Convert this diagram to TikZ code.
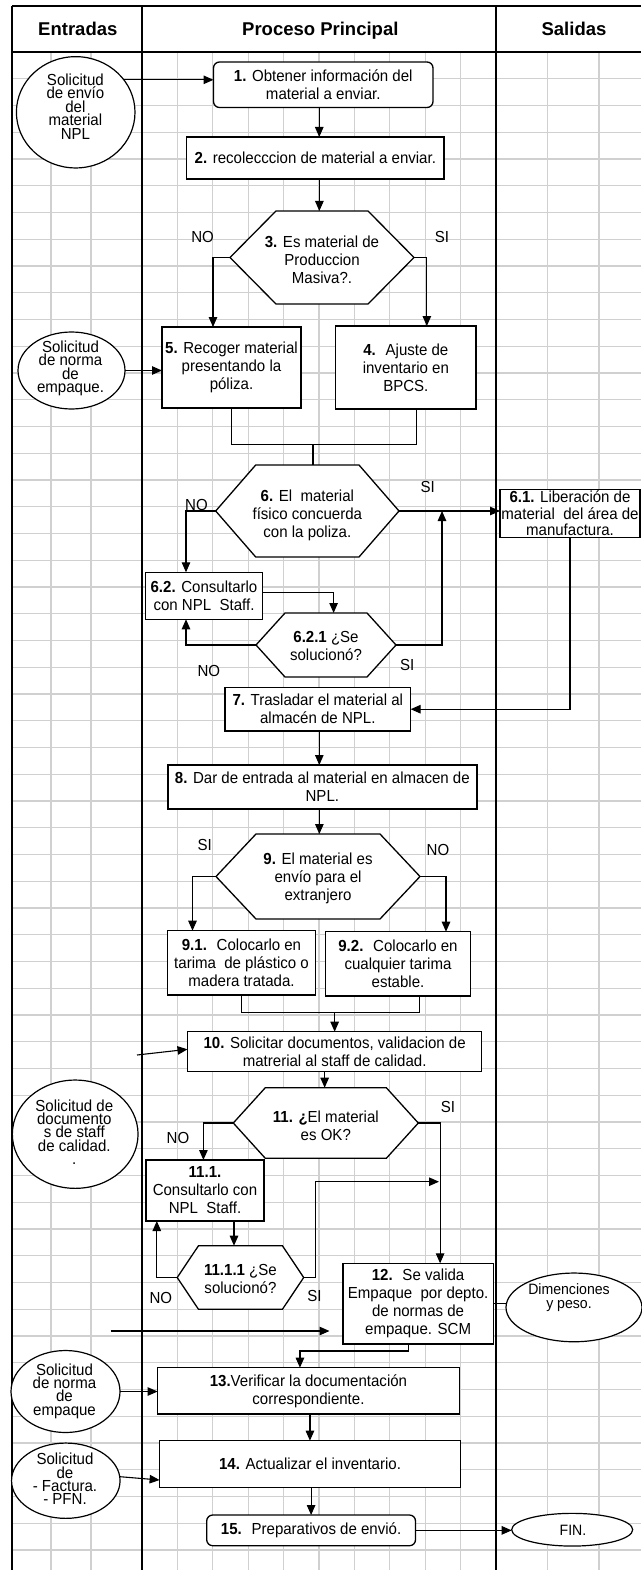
\documentclass[tikz,border=0pt]{standalone}
\usepackage{fontspec}
\setmainfont{Liberation Sans}[FakeStretch=0.94]
\newfontfamily\headfont{Liberation Sans}
\usetikzlibrary{arrows.meta,shapes.geometric}

\definecolor{gridgray}{RGB}{208,208,208}
\newcommand\bodyfont{\fontsize{16}{18}\selectfont}
\newcommand\ovalfont{\fontsize{16}{13.4}\selectfont\lineskiplimit=-20pt}
\newcommand\smallovalfont{\fontsize{15}{13.4}\selectfont\lineskiplimit=-20pt}

% hexagonal decision: name, cx, cy, width, height, inset, text drop, text
\newcommand\hexa[8]{%
  \node[hexfrm, minimum width=#4pt, minimum height=#5pt] (#1) at (#2,#3) {};
  \path[hexline] ([xshift=#6pt]#1.north west) -- ([xshift=-#6pt]#1.north east)
     -- (#1.east) -- ([xshift=-#6pt]#1.south east) -- ([xshift=#6pt]#1.south west)
     -- (#1.west) -- cycle;
  \node[htext] (#1t) at ([yshift=-#7pt]#1.center) {#8};
}

\tikzset{
  frame/.style={line width=2pt},
  gridln/.style={draw=gridgray, line width=1.2pt},
  box/.style={draw, fill=white, line width=1.3pt, inner sep=0pt, outer sep=0pt,
              align=center, font=\bodyfont},
  rbox/.style={box, rounded corners=6pt},
  oval/.style={ellipse, draw, fill=white, line width=1.2pt, inner sep=0pt, outer sep=0pt},
  otext/.style={align=center, font=\ovalfont, inner sep=0pt},
  hexfrm/.style={draw=none, inner sep=0pt, outer sep=0pt},
  hexline/.style={draw, fill=white, line width=1.3pt, line join=miter},
  htext/.style={align=center, font=\bodyfont, inner sep=0pt},
  lbl/.style={font=\bodyfont, inner sep=0pt},
  conn/.style={line width=1.1pt},
  arr/.style={conn, -{Triangle[length=10pt,width=8.5pt]}},
  head/.style={font=\headfont\bfseries\fontsize{18.5}{21}\selectfont, inner sep=0pt, anchor=base}
}

\begin{document}
\begin{tikzpicture}[x=1pt, y=-1pt]
\useasboundingbox (0,0) rectangle (641,1570);
\fill[white] (0,0) rectangle (641,1570);

% background grid
\foreach \i in {1,...,56}
  \draw[gridln] (12,{52+\i*26.75}) -- (641,{52+\i*26.75});
\foreach \x in {51,91,177.4,212.8,248.2,283.6,319.0,354.4,389.8,425.2,460.6,547.5,599}
  \draw[gridln] (\x,52) -- (\x,1570);

% swimlane frame
\draw[frame] (12,6) -- (641,6);
\draw[frame] (12,52) -- (641,52);
\draw[frame] (12,6) -- (12,1570);
\draw[frame] (142,6) -- (142,1570);
\draw[frame] (496,6) -- (496,1570);

\node[head] (hE) at (77.8,36) {Entradas};
\node[head] (hP) at (320.3,36) {Proceso Principal};
\node[head] (hS) at (574,36) {Salidas};

% inputs
\node[oval, minimum width=118.6pt, minimum height=111.3pt] (e1) at (75.7,112.3) {};
\node[otext] (e1t) at (75.4,106.5) {Solicitud\\de envío\\del\\material\\NPL};
\node[oval, minimum width=107pt, minimum height=77pt] (e2) at (71.5,370.5) {};
\node[otext] (e2t) at (70.5,368.5) {Solicitud\\de norma\\de\\empaque.};
\node[oval, minimum width=125.7pt, minimum height=108.3pt] (e3) at (75.2,1134.2) {};
\node[otext] (e3t) at (74.3,1132) {Solicitud de\\documento\\s de staff\\de calidad.\\.};
\node[oval, minimum width=109pt, minimum height=82pt] (e5) at (65.5,1391.5) {};
\node[otext] (e5t) at (64.5,1391) {Solicitud\\de norma\\de\\empaque};
\node[oval, minimum width=108.5pt, minimum height=75.3pt] (e6) at (65.8,1480.7) {};
\node[otext] (e6t) at (65,1479) {Solicitud\\de\\- Factura.\\- PFN.};

% outputs
\node[oval, minimum width=136pt, minimum height=68.7pt] (e4) at (574,1307.4) {};
\node[otext, font=\smallovalfont] (e4t) at (569,1297.5) {Dimenciones\\y peso.};
\node[oval, minimum width=121pt, minimum height=32.7pt] (fin) at (572.2,1529.7) {};
\node[otext, font=\smallovalfont] (fint) at (573,1530) {FIN.};

% process steps
\node[rbox, minimum width=219.5pt, minimum height=45.5pt] (b1) at (323.25,84.75)
  {\textbf{1.} Obtener información del\\material a enviar.};
\node[box, minimum width=257.3pt, minimum height=42pt] (b2) at (315.35,158)
  {\textbf{2.} recolecccion de material a enviar.};
\hexa{h3}{322}{257.5}{184}{93}{46}{2}{\textbf{3.} Es material de\\Produccion\\Masiva?.}
\node[box, minimum width=139pt, minimum height=81pt] (b5) at (231.5,367.5)
  {\textbf{5.} Recoger material\\presentando la\\póliza.};
\node[box, minimum width=140.3pt, minimum height=83pt] (b4) at (405.85,367.5)
  {\textbf{4.}~ Ajuste de\\inventario en\\BPCS.};
\hexa{h6}{307.35}{511}{183.3}{92}{40}{4}{\textbf{6.} El~ material\\físico concuerda\\con la poliza.}
\node[box, minimum width=140pt, minimum height=48pt, font=\fontsize{16}{16.5}\selectfont] (b61) at (570,513.5)
  {\textbf{6.1.} Liberación de\\material~ del área de\\manufactura.};
\node[box, minimum width=117.5pt, minimum height=47pt] (b62) at (204,595.8)
  {\textbf{6.2.} Consultarlo\\con NPL~ Staff.};
\hexa{h621}{326}{645}{140}{64}{29}{1}{\textbf{6.2.1} ¿Se\\solucionó?}
\node[box, minimum width=185.6pt, minimum height=43.7pt] (b7) at (317.8,709.2)
  {\textbf{7.} Trasladar el material al\\almacén de NPL.};
\node[box, minimum width=309pt, minimum height=44pt] (b8) at (322.35,787)
  {\textbf{8.} Dar de entrada al material en almacen de\\NPL.};
\hexa{h9}{318}{876.5}{204}{85}{40}{2}{\textbf{9.} El material es\\envío para el\\extranjero};
\node[box, minimum width=147.4pt, minimum height=64.3pt] (b91) at (241.5,962.85)
  {\textbf{9.1.}~ Colocarlo en\\tarima~ de plástico o\\madera tratada.};
\node[box, minimum width=145.3pt, minimum height=64.3pt] (b92) at (398,963.85)
  {\textbf{9.2.}~ Colocarlo en\\cualquier tarima\\estable.};
\node[box, minimum width=294.3pt, minimum height=40pt] (b10) at (334.65,1051.7)
  {\textbf{10.} Solicitar documentos, validacion de\\matrerial al staff de calidad.};
\hexa{h11}{325.8}{1123}{185}{70.6}{32}{3}{\textbf{11. ¿}El material\\es OK?}
\node[box, minimum width=118pt, minimum height=61pt] (b111) at (205,1190.5)
  {\textbf{11.1.}\\Consultarlo con\\NPL~ Staff.};
\hexa{h1111}{240.45}{1277.5}{126.5}{63.6}{21.3}{1}{\textbf{11.1.1} ¿Se\\solucionó?}
\node[box, minimum width=150.2pt, minimum height=80.7pt] (b12) at (418.1,1303.65)
  {\textbf{12.}~ Se valida\\Empaque~ por depto.\\de normas de\\empaque. SCM};
\node[box, minimum width=301.7pt, minimum height=46.3pt] (b13) at (308.45,1390.85)
  {\textbf{13.}Verificar la documentación\\correspondiente.};
\node[box, minimum width=300.9pt, minimum height=46.6pt] (b14) at (310.05,1464)
  {\textbf{14.} Actualizar el inventario.};
\node[rbox, minimum width=208.8pt, minimum height=30.7pt] (b15) at (311.1,1530.35)
  {\textbf{15.}~ Preparativos de envió.};

% decision labels
\node[lbl] (l3n) at (202.6,236.7) {NO};
\node[lbl] (l3s) at (442,236.7) {SI};
\node[lbl] (l6n) at (196.5,505) {NO};
\node[lbl] (l6s) at (427.8,487.3) {SI};
\node[lbl] (l621n) at (208.8,670.7) {NO};
\node[lbl] (l621s) at (407.3,665) {SI};
\node[lbl] (l9s) at (204.7,845) {SI};
\node[lbl] (l9n) at (438,850) {NO};
\node[lbl] (l11s) at (448,1106.7) {SI};
\node[lbl] (l11n) at (178,1138.3) {NO};
\node[lbl] (l1111n) at (160.9,1298.3) {NO};
\node[lbl] (l1111s) at (314.4,1295.7) {SI};

% junction points and free ends
\coordinate (j1) at ([xshift=5.6pt,yshift=20.7pt]h6.north);
\coordinate (j3) at ([yshift=19pt]b10.north);
\coordinate (j4) at (439,1181.7);
\coordinate (in10) at (137,1055);
\coordinate (in12a) at (110.5,1331);
\coordinate (in12b) at (329.5,1331);

% connectors
\draw[arr] (e1.34) -- (e1.34 -| b1.west);
\draw[arr] ([xshift=-4pt]b1.south) -- ([xshift=-4pt]b1.south |- b2.north);
\draw[arr] ([xshift=4pt]b2.south) -- ([xshift=4pt]b2.south |- h3.north);
\draw[arr] (h3.west) -| ([xshift=-18.5pt]b5.north);
\draw[arr] (h3.east) -| ([xshift=21pt]b4.north);
\draw[arr] (e2.east) -- (e2.east -| b5.west);
\draw[conn] (b5.south) |- ([xshift=10.5pt]b4.south |- j1) -- ([xshift=10.5pt]b4.south);
\draw[conn] (j1) -- (j1 |- h6.north);
\draw[arr] (h6.west) -| ([xshift=-18pt]b62.north);
\draw[arr] (h6.east) -- (h6.east -| b61.west);
\draw[arr] (b61.south) |- (b7.east);
\draw[arr] ([yshift=3.5pt]b62.east) -| ([xshift=7.6pt]h621.north);
\draw[arr] (h621.east) -| ([xshift=43pt]h6.east);
\draw[arr] (h621.west) -| ([xshift=-18pt]b62.south);
\draw[arr] ([xshift=1.5pt]b7.south) -- ([xshift=1.5pt]b7.south |- b8.north);
\draw[arr] ([xshift=-3pt]b8.south) -- ([xshift=-3pt]b8.south |- h9.north);
\draw[arr] (h9.west) -| ([xshift=-49pt]b91.north);
\draw[arr] (h9.east) -| ([xshift=48pt]b92.north);
\draw[conn] (b91.south) |- ([xshift=21.6pt]b92.south |- j3) -- ([xshift=21.6pt]b92.south);
\draw[arr] (j3) -- (b10.north);
\draw[arr] (in10) -- ([yshift=2.4pt]b10.west);
\draw[arr] ([xshift=-10pt]b10.south) -- ([xshift=-10pt]b10.south |- h11.north);
\draw[arr] (h11.west) -| ([xshift=-1.6pt]b111.north);
\draw[arr] (h11.east) -| ([xshift=22pt]b12.north);
\draw[arr] ([xshift=29pt]b111.south) -- ([xshift=29pt]b111.south |- h1111.north);
\draw[arr] (h1111.west) -| ([xshift=-48.2pt]b111.south);
\draw[arr] (h1111.east) -- ([xshift=12pt]h1111.east) |- (j4);
\draw[conn] (b12.east) -- (b12.east -| e4.west);
\draw[arr] (in12a) -- (in12b);
\draw[arr] ([xshift=-10pt]b12.south) -- ++(0,7) -| ([xshift=-8.5pt]b13.north);
\draw[arr] (e5.east) -- (e5.east -| b13.west);
\draw[arr] ([xshift=1.5pt]b13.south) -- ([xshift=1.5pt]b13.south |- b14.north);
\draw[arr] ([yshift=4pt]e6.east) -- ([yshift=-16pt]b14.west);
\draw[arr] (b15.north |- b14.south) -- (b15.north);
\draw[arr] (b15.east) -- (b15.east -| fin.west);
\end{tikzpicture}
\end{document}
